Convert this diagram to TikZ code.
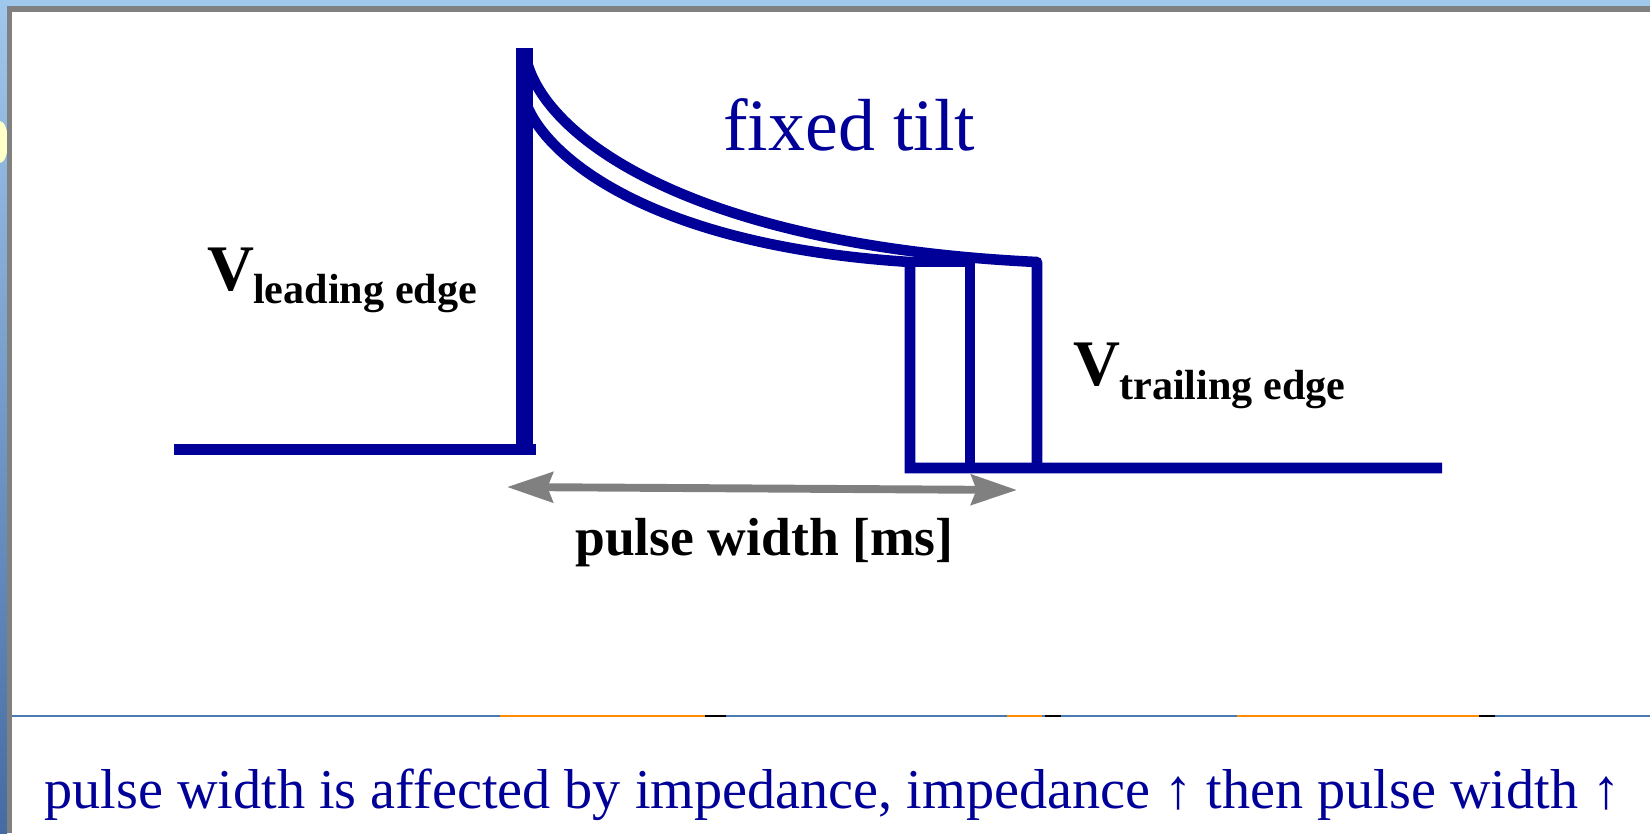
\documentclass[tikz,border=0pt]{standalone}
\usepackage{fontspec}
\setmainfont{Liberation Serif}
\usetikzlibrary{arrows.meta,positioning}
\definecolor{pulseblue}{RGB}{0,0,153}
\definecolor{framegray}{RGB}{128,128,128}
\definecolor{skyblue}{RGB}{160,200,236}
\definecolor{steelblue}{RGB}{68,108,162}
\definecolor{rulerblue}{RGB}{74,122,176}
\definecolor{tabyellow}{RGB}{255,255,200}
\definecolor{taborange}{RGB}{255,140,0}
\tikzset{
  wave/.style={draw=pulseblue, line width=6pt, line join=miter},
  riseline/.style={wave, line width=9.6pt},
  widtharrow/.style={{Stealth[length=26pt, width=17pt, inset=3pt]}-{Stealth[length=26pt, width=17pt, inset=3pt]},
    draw=framegray, line width=4.5pt},
  tiltlbl/.style={text=pulseblue, inner sep=0pt, font=\fontsize{42pt}{48pt}\selectfont},
  vlbl/.style={inner sep=0pt, font=\fontsize{37pt}{42pt}\selectfont\bfseries},
  sublbl/.style={inner sep=0pt, font=\fontsize{24pt}{28pt}\selectfont\bfseries},
  axislbl/.style={inner sep=0pt, font=\fontsize{30.5pt}{34pt}\selectfont\bfseries},
  notelbl/.style={text=pulseblue, inner sep=0pt, font=\fontsize{32pt}{36pt}\selectfont},
}
\begin{document}
\begin{tikzpicture}[x=0.02cm, y=-0.02cm]
  \useasboundingbox (0,0) rectangle (1650,833);
  % window frame
  \fill[white] (0,0) rectangle (1650,833);
  \fill[skyblue] (0,0) rectangle (1650,6);
  \shade[top color=skyblue, bottom color=steelblue] (0,0) rectangle (7,833);
  \fill[tabyellow] (0,142) ellipse (8 and 21);
  \fill[framegray] (7,6) rectangle (1650,12);
  \fill[framegray] (7,6) rectangle (12,833);
  \draw[rulerblue, line width=0.6pt] (12,716) -- (1650,716);
  \foreach \a/\b in {500/705, 1007/1042, 1237/1479}
    \draw[taborange, line width=0.8pt] (\a,716) -- (\b,716);
  \foreach \a/\b in {705/726, 1045/1061, 1479/1495}
    \draw[black, line width=0.8pt] (\a,716) -- (\b,716);
  % pulses
  \draw[wave] (174,449.5) -- (536,449.5);
  \draw[wave] (525,100) .. controls (540,150) and (640,245) .. (910,262) -- (910,468) -- (1442,468);
  \draw[wave] (910,262) -- (970,262) -- (970,468);
  \draw[wave, line join=round] (525,52) .. controls (535,130) and (680,245) .. (1037,262) -- (1037,468);
  \draw[riseline] (524.5,455) -- (524.5,48);
  % width arrow
  \coordinate (pwl) at (507,487);
  \coordinate (pwr) at (1017,490);
  \draw[widtharrow] (pwl) -- (pwr);
  % labels
  \node[tiltlbl, anchor=base west] (tilt) at (723,150) {fixed tilt};
  \node[vlbl, anchor=base west] (vlead) at (207,290) {V};
  \node[sublbl, anchor=base west, xshift=-1pt, yshift=-7.4pt] (vleadsub) at (vlead.base east) {leading edge};
  \node[vlbl, anchor=base west] (vtrail) at (1073,385) {V};
  \node[sublbl, anchor=base west, xshift=-1pt, yshift=-8.5pt] (vtrailsub) at (vtrail.base east) {trailing edge};
  \node[axislbl, anchor=base west] (pwlbl) at (575,555) {pulse width [ms]};
  \node[notelbl, anchor=base west] (note) at (44,808) {pulse width is affected by impedance, impedance ↑ then pulse width ↑};
\end{tikzpicture}
\end{document}
